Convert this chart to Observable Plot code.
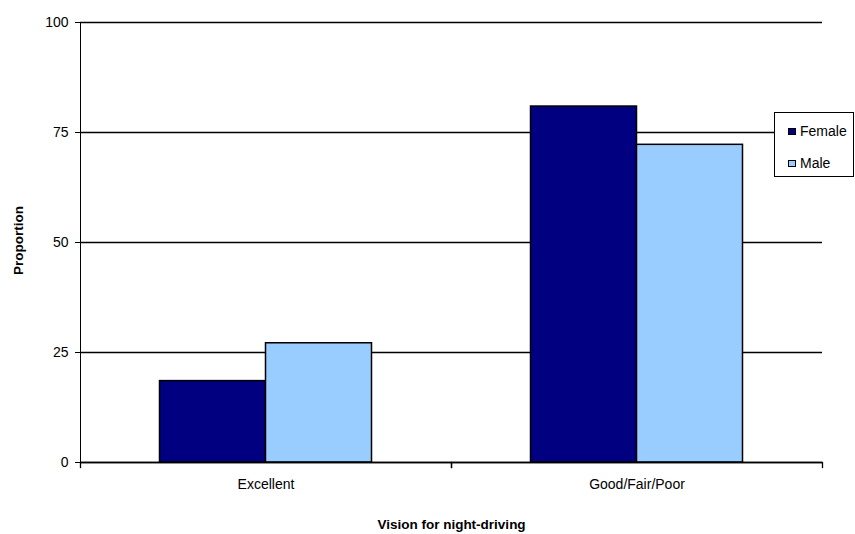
<!DOCTYPE html>
<html>
<head>
<meta charset="utf-8">
<script src="https://cdn.jsdelivr.net/npm/d3@7"></script>
<script src="https://cdn.jsdelivr.net/npm/@observablehq/plot@0.6"></script>
<style>
  body { margin: 0; background: white; }
  #wrap { position: relative; width: 855px; height: 534px; overflow: hidden; font-family: "Liberation Sans", Arial, sans-serif; }
  #legend { position: absolute; left: 774px; top: 112px; width: 80px; height: 65px; background: white; border: 1.5px solid black; box-sizing: border-box; font-size: 14px; }
  .item { position: absolute; left: 13px; display: flex; align-items: center; line-height: 16px; }
  .sw { width: 6px; height: 5px; border: 1px solid black; margin-right: 4px; }
</style>
</head>
<body>
<div id="wrap"></div>
<script>
const categories = ["Excellent", "Good/Fair/Poor"];
const series = ["Female", "Male"];
const female = [18.5, 80.9];
const male = [27.1, 72.2];
const yTicks = [0, 25, 50, 75, 100];
const colors = ["#000080", "#99CCFF"];
const xTitle = "Vision for night-driving";
const yTitle = "Proportion";

const data = categories.flatMap((c, i) => [
  {cat: c, sex: series[0], value: female[i]},
  {cat: c, sex: series[1], value: male[i]}
]);

const H = 534, mT = 22, mB = 72;
const chart = Plot.plot({
  width: 855, height: H,
  marginLeft: 80, marginRight: 33, marginTop: mT, marginBottom: mB,
  style: {fontFamily: "'Liberation Sans', Arial, sans-serif", fontSize: "14px", color: "black", background: "white", overflow: "visible"},
  fx: {domain: categories, padding: 0, round: false, label: null, tickSize: 0, tickPadding: 17},
  x: {domain: series, paddingInner: 0, paddingOuter: 0.75, round: false, axis: null},
  y: {domain: [0, 100], ticks: yTicks, tickSize: 5, line: true, label: null, tickPadding: 7},
  color: {domain: series, range: colors},
  marks: [
    Plot.gridY(yTicks, {stroke: "black", strokeOpacity: 1, strokeWidth: 1.3}),
    Plot.barY(data, {fx: "cat", x: "sex", y: "value", fill: "sex", stroke: "black", strokeWidth: 1.5}),
    Plot.ruleY([0], {stroke: "black", strokeWidth: 1.3}),
    Plot.frame({anchor: "left", insetTop: H - mT - mB, insetBottom: -5, strokeWidth: 1.3}),
    Plot.frame({anchor: "right", insetTop: H - mT - mB, insetBottom: -5, strokeWidth: 1.3}),
    Plot.text([yTitle], {fx: () => categories[0], text: d => d, frameAnchor: "left", rotate: -90, dx: -62, dy: -2, fontWeight: "bold", fontSize: 13.5, textAnchor: "middle"}),
    Plot.text([xTitle], {fx: () => categories[0], text: d => d, frameAnchor: "bottom-right", dy: 66, fontWeight: "bold", fontSize: 13.5, textAnchor: "middle"})
  ]
});
const wrap = document.getElementById("wrap");
wrap.appendChild(chart);

const legend = document.createElement("div");
legend.id = "legend";
series.forEach((s, i) => {
  const it = document.createElement("div");
  it.className = "item";
  it.style.top = (i === 0 ? 10 : 42) + "px";
  const sw = document.createElement("span");
  sw.className = "sw";
  sw.style.background = colors[i];
  const t = document.createElement("span");
  t.textContent = s;
  it.appendChild(sw); it.appendChild(t);
  legend.appendChild(it);
});
wrap.appendChild(legend);
</script>
</body>
</html>
